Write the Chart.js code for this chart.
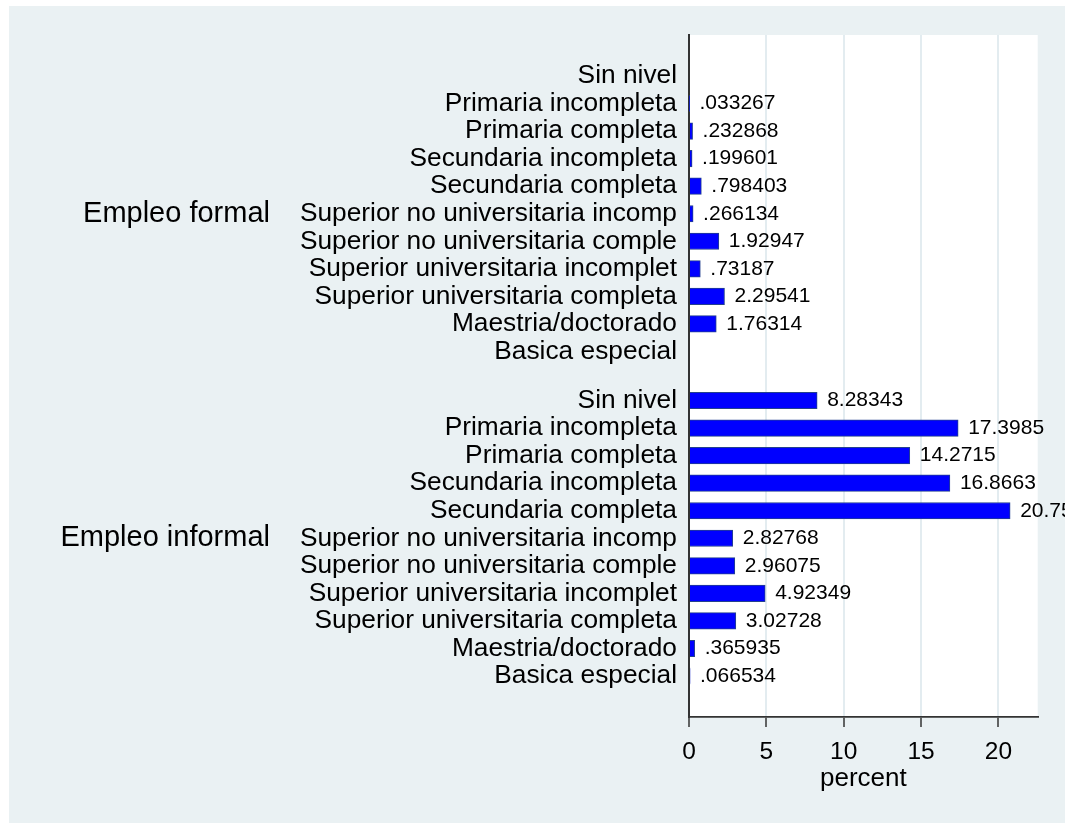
<!DOCTYPE html>
<html>
<head>
<meta charset="utf-8">
<script src="https://cdn.jsdelivr.net/npm/chart.js@4/dist/chart.umd.min.js"></script>
<style>
  html, body { margin: 0; padding: 0; background: #ffffff; }
  canvas { display: block; }
</style>
</head>
<body>
<canvas id="c" width="1070" height="823"></canvas>
<script>
// ---- data ----
const groups = ['Empleo formal', 'Empleo informal'];
const categories = [
  'Sin nivel',
  'Primaria incompleta',
  'Primaria completa',
  'Secundaria incompleta',
  'Secundaria completa',
  'Superior no universitaria incomp',
  'Superior no universitaria comple',
  'Superior universitaria incomplet',
  'Superior universitaria completa',
  'Maestria/doctorado',
  'Basica especial'
];
const formalValues = [null, 0.033267, 0.232868, 0.199601, 0.798403, 0.266134, 1.92947, 0.73187, 2.29541, 1.76314, null];
const informalValues = [8.28343, 17.3985, 14.2715, 16.8663, 20.7584, 2.82768, 2.96075, 4.92349, 3.02728, 0.365935, 0.066534];
const xTicks = [0, 5, 10, 15, 20];
const xTitle = 'percent';

// ---- layout constants ----
const GROUP_GAP = 1.78;          // extra space between groups, in rows
const Y_MIN = -1.488, Y_MAX = 23.267;
const X_MAX = 22.54;
const FONT = "'Liberation Sans', Arial, Helvetica, sans-serif";

const seriesByGroup = [formalValues, informalValues];
const rowPos = [], rowLabels = [], points = [];
seriesByGroup.forEach((vals, g) => {
  const base = g * (categories.length - 1 + GROUP_GAP);
  categories.forEach((cat, i) => {
    const p = base + i;
    rowPos.push(p);
    rowLabels.push(cat);
    if (vals[i] !== null) points.push({ x: vals[i], y: p });
  });
});
const groupPos = seriesByGroup.map((v, g) => g * (categories.length - 1 + GROUP_GAP) + (categories.length - 1) / 2);

function fmt(v) {
  let s = v.toPrecision(6);
  if (s.indexOf('.') >= 0) s = s.replace(/0+$/, '').replace(/\.$/, '');
  if (s.startsWith('0.')) s = s.slice(1);
  return s;
}

const bgPlugin = {
  id: 'bg',
  beforeDraw(chart) {
    const ctx = chart.ctx, a = chart.chartArea;
    ctx.save();
    ctx.fillStyle = '#ffffff';
    ctx.fillRect(0, 0, chart.width, chart.height);
    ctx.fillStyle = '#eaf1f3';
    ctx.fillRect(9, 6, 1056, chart.height - 6);
    ctx.fillStyle = '#ffffff';
    ctx.fillRect(a.left, a.top, a.right - a.left, a.bottom - a.top);
    ctx.restore();
  }
};

const valueLabels = {
  id: 'valueLabels',
  afterDatasetsDraw(chart) {
    const ctx = chart.ctx;
    const meta = chart.getDatasetMeta(0);
    const ds = chart.data.datasets[0].data;
    ctx.save();
    ctx.beginPath();
    ctx.rect(9, 6, 1056, chart.height - 6);
    ctx.clip();
    ctx.font = '21px ' + FONT;
    ctx.fillStyle = '#000';
    ctx.textAlign = 'left';
    ctx.textBaseline = 'middle';
    meta.data.forEach((el, i) => {
      ctx.fillText(fmt(ds[i].x), el.x + 10, el.y);
    });
    ctx.restore();
  }
};

new Chart(document.getElementById('c'), {
  type: 'bar',
  data: {
    datasets: [{
      data: points,
      backgroundColor: '#0000ff',
      borderColor: '#24418e',
      borderWidth: 1,
      barThickness: 16.5
    }]
  },
  options: {
    responsive: false,
    animation: false,
    indexAxis: 'y',
    layout: { padding: { top: 35, right: 32.3, left: 0, bottom: 0 } },
    plugins: { legend: { display: false }, tooltip: { enabled: false } },
    scales: {
      x: {
        type: 'linear',
        position: 'bottom',
        min: 0,
        max: X_MAX,
        bounds: 'data',
        offset: false,
        afterBuildTicks: s => { s.ticks = xTicks.map(v => ({ value: v })); },
        afterFit: s => { s.height = 106; },
        grid: { color: '#e3ecf0', lineWidth: 2, tickColor: '#333333', tickLength: 10, tickWidth: 1.5, offset: false },
        border: { color: '#333333', width: 1.7 },
        ticks: { color: '#000', font: { family: FONT, size: 24.5 }, padding: 11, maxRotation: 0, autoSkip: false },
        title: { display: true, text: xTitle, color: '#000', font: { family: FONT, size: 26 }, padding: { top: 0, bottom: 29 } }
      },
      y: {
        type: 'linear',
        position: 'left',
        reverse: true,
        min: Y_MIN,
        max: Y_MAX,
        bounds: 'data',
        offset: false,
        weight: 0,
        afterBuildTicks: s => { s.ticks = rowPos.map(v => ({ value: v })); },
        afterFit: s => { s.width = 404; },
        grid: { display: false, drawTicks: false, offset: false },
        border: { color: '#333333', width: 2 },
        ticks: {
          autoSkip: false,
          padding: 12,
          color: '#000',
          font: { family: FONT, size: 26.3, lineHeight: 1 },
          callback: (v, i) => rowLabels[i]
        }
      },
      grp: {
        type: 'linear',
        position: 'left',
        reverse: true,
        min: Y_MIN,
        max: Y_MAX,
        bounds: 'data',
        offset: false,
        weight: 1,
        afterBuildTicks: s => { s.ticks = groupPos.map(v => ({ value: v })); },
        afterFit: s => { s.width = 285; },
        grid: { display: false, drawTicks: false, offset: false },
        border: { display: false },
        ticks: {
          autoSkip: false,
          padding: 15,
          color: '#000',
          font: { family: FONT, size: 29, lineHeight: 1 },
          callback: (v, i) => groups[i]
        }
      }
    }
  },
  plugins: [bgPlugin, valueLabels]
});
</script>
</body>
</html>
